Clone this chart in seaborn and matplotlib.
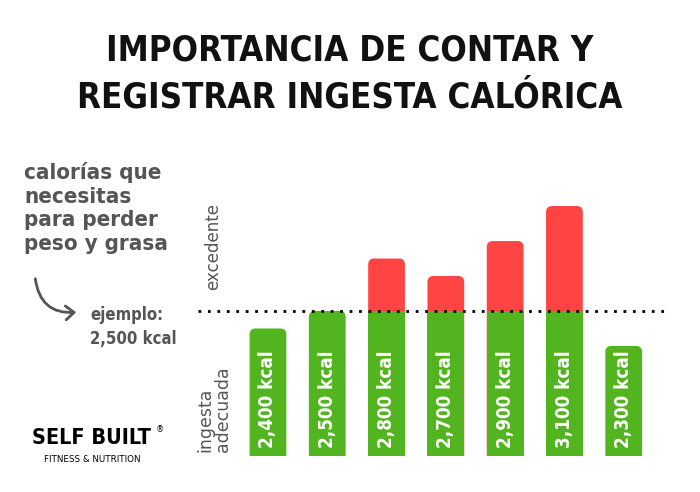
import numpy as np
import pandas as pd
import matplotlib
matplotlib.use("Agg")
import matplotlib.pyplot as plt
from matplotlib.patches import FancyBboxPatch, Rectangle, FancyArrowPatch
import seaborn as sns

# data
days = ["d1", "d2", "d3", "d4", "d5", "d6", "d7"]
kcal = [2400, 2500, 2800, 2700, 2900, 3100, 2300]
labels = ["2,400 kcal", "2,500 kcal", "2,800 kcal", "2,700 kcal",
          "2,900 kcal", "3,100 kcal", "2,300 kcal"]
target = 2500

GREEN = "#52b41e"
RED = "#ff4444"
GRAY = "#555555"

sns.set_theme(style="white")
plt.rcParams["font.family"] = ["DejaVu Sans"]

df = pd.DataFrame({"day": days, "kcal": kcal})
colors = [RED if v > target else GREEN for v in kcal]

fig = plt.figure(figsize=(7, 4.92), dpi=100)
ax = fig.add_axes([198 / 700, 36 / 492, 469 / 700, 276 / 492])

sns.barplot(data=df, x="day", y="kcal", hue="day", palette=colors,
            legend=False, width=0.62, ax=ax, saturation=1)
ax.set_xlim(-1.18, 6.73)
ax.set_ylim(1671, 3249)
ax.axis("off")

# pixel -> data scale, for rounded corners
fig.canvas.draw()
p0 = ax.transData.transform((0, 0))
p1 = ax.transData.transform((1, 1))
xu = 1 / (p1[0] - p0[0])
yu = 1 / (p1[1] - p0[1])
r = 6 * xu

bars = list(ax.patches)
for b, v, c in zip(bars, kcal, colors):
    x, w, h = b.get_x(), b.get_width(), b.get_height()
    b.remove()
    ax.add_patch(FancyBboxPatch((x, 1400), w, h - 1400,
                                boxstyle=f"round,pad=0,rounding_size={r}",
                                mutation_aspect=yu / xu, fc=c, ec="none",
                                zorder=2))
    if v > target:
        ax.add_patch(Rectangle((x, 1400), w, target - 1400, fc=GREEN,
                               ec="none", zorder=3))

for i, lab in enumerate(labels):
    ax.text(i, 1671 + 8 * yu, lab, rotation=90, ha="center", va="bottom",
            color="white", fontsize=13.5, fontweight="bold",
            fontstretch="condensed", zorder=5)

ax.axhline(target, color="black", lw=2, ls=(0, (1, 2.4)), zorder=4)

# titles and notes
fig.text(0.5, 1 - 74 / 492,
         "IMPORTANCIA DE CONTAR Y\nREGISTRAR INGESTA CALÓRICA",
         ha="center", va="center", fontsize=25, fontweight="bold",
         fontstretch="condensed", color="#111111", linespacing=1.45)

fig.text(24 / 700, 1 - 162 / 492, "calorías que\nnecesitas\npara perder\npeso y grasa",
         ha="left", va="top", fontsize=16, fontweight="bold", color=GRAY,
         fontstretch="condensed", linespacing=1.22)
fig.text(90 / 700, 1 - 306 / 492, "ejemplo:\n2,500 kcal", ha="left", va="top",
         fontsize=12, fontweight="bold", color=GRAY, linespacing=1.4,
         fontstretch="condensed")

fig.text(213 / 700, 1 - 246 / 492, "excedente", rotation=90, ha="center",
         va="center", fontsize=12, color=GRAY)
fig.text(214 / 700, 1 - 452 / 492, "ingesta\nadecuada", rotation=90,
         ha="center", va="bottom", multialignment="left", fontsize=12.5,
         color=GRAY, linespacing=0.95)

arrow = FancyArrowPatch((35 / 700, 1 - 276 / 492), (79 / 700, 1 - 312 / 492),
                        transform=fig.transFigure,
                        connectionstyle="arc3,rad=0.5",
                        arrowstyle="->,head_length=6,head_width=5",
                        color=GRAY, lw=2)
fig.patches.append(arrow)

# logo
fig.text(32 / 700, 1 - 438 / 492, "SELF BUILT", ha="left", va="center",
         fontsize=15.5, fontweight="bold", fontstretch="condensed", color="black")
fig.text(156 / 700, 1 - 430 / 492, "®", ha="left", va="center", fontsize=6,
         color="black")
fig.text(44 / 700, 1 - 459 / 492, "FITNESS & NUTRITION", ha="left",
         va="center", fontsize=6.3, color="black")

fig.savefig("out.png", dpi=100)
